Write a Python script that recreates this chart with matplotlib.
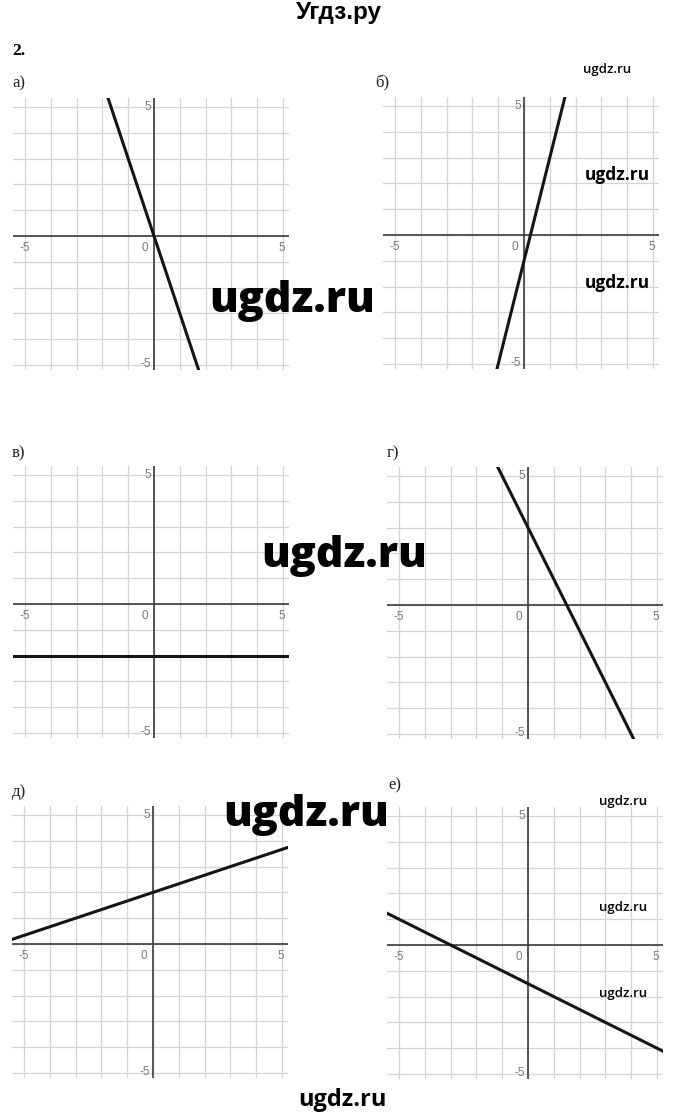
import numpy as np
import matplotlib
matplotlib.use('Agg')
import matplotlib.pyplot as plt

# данные графиков: y = k*x + b
panel_labels = ['а)', 'б)', 'в)', 'г)', 'д)', 'е)']
slopes = [-3, 4, 0, -2, 1 / 3, -0.5]
intercepts = [0, -1, -2, 3, 2, -1.5]
grid_ticks = list(range(-5, 6))

W, H = 680, 1119
fig = plt.figure(figsize=(W / 100, H / 100), dpi=100)

# положение начала координат каждой панели (пиксели) и масштаб
origins = [(154, 236), (524, 235), (154, 604), (528, 605), (153, 944), (528, 945)]
label_pos = [(12, 83), (375, 83), (12, 453), (387, 453), (12, 792), (388, 785)]
unit = 25.8
xlim = (-5.45, 5.22)
ylim = (-5.2, 5.33)

for i in range(6):
    ox, oy = origins[i]
    left = ox + xlim[0] * unit
    top = oy - ylim[1] * unit
    w = (xlim[1] - xlim[0]) * unit
    h = (ylim[1] - ylim[0]) * unit
    ax = fig.add_axes([left / W, 1 - (top + h) / H, w / W, h / H])
    ax.set_xlim(xlim)
    ax.set_ylim(ylim)
    for s in ax.spines.values():
        s.set_visible(False)
    ax.set_xticks([])
    ax.set_yticks([])
    for t in grid_ticks:
        ax.axvline(t, color='#d4d4d4', lw=0.9, zorder=1)
        ax.axhline(t, color='#d4d4d4', lw=0.9, zorder=1)
    ax.axhline(0, color='#3c3c3c', lw=1.2, zorder=2)
    ax.axvline(0, color='#3c3c3c', lw=1.2, zorder=2)

    # подписи осей
    tk = dict(fontsize=8.5, color='#7a7a7a', family='Liberation Sans', zorder=3)
    ax.text(-5.0, -0.45, '-5', ha='center', va='center', **tk)
    ax.text(-0.35, -0.45, '0', ha='center', va='center', **tk)
    ax.text(4.95, -0.45, '5', ha='center', va='center', **tk)
    ax.text(-0.12, 5.0, '5', ha='right', va='center', **tk)
    ax.text(-0.12, -4.95, '-5', ha='right', va='center', **tk)

    ax.axline((0, intercepts[i]), slope=slopes[i], color='#151515', lw=2.2, zorder=4)

    lx, ly = label_pos[i]
    fig.text(lx / W, 1 - ly / H, panel_labels[i], fontsize=12, family='Liberation Serif',
             ha='left', va='center', color='#222')

# заголовок и номер задания
fig.text(339 / W, 1 - 13 / H, 'Угдз.ру', fontsize=17.5, fontweight='bold',
         family='Liberation Sans', ha='center', va='center')
fig.text(12 / W, 1 - 51 / H, '2.', fontsize=12.5, fontweight='bold',
         family='Liberation Serif', ha='left', va='center')

# водяные знаки
wm = dict(family='Open Sans', ha='center', va='center', color='black', zorder=10)
for x, y in [(292, 301), (344, 556), (306, 815)]:
    fig.text(x / W, 1 - y / H, 'ugdz.ru', fontsize=31, fontweight='heavy', **wm)
fig.text(342 / W, 1 - 1100 / H, 'ugdz.ru', fontsize=17, fontweight='bold', **wm)
fig.text(607 / W, 1 - 69 / H, 'ugdz.ru', fontsize=9.5, fontweight='semibold', **wm)
for y in [175, 283]:
    fig.text(617 / W, 1 - y / H, 'ugdz.ru', fontsize=12.5, fontweight='bold', **wm)
for y in [802, 907, 993]:
    fig.text(623 / W, 1 - y / H, 'ugdz.ru', fontsize=9.5, fontweight='semibold', **wm)

fig.savefig('out.png', dpi=100)
